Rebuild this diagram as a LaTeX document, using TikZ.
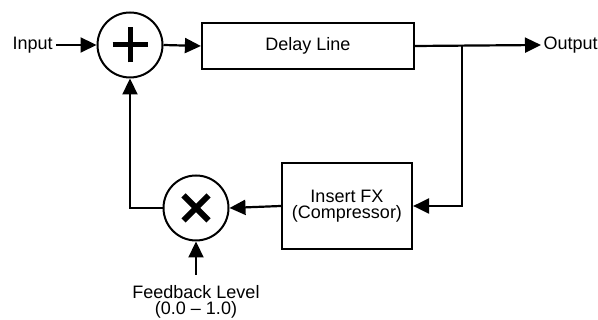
\documentclass[tikz,border=0pt]{standalone}
\usepackage{fontspec}
\setmainfont{Liberation Sans}
\usetikzlibrary{arrows.meta}
\begin{document}
\begin{tikzpicture}[x=1pt,y=1pt,
  wire/.style={line width=2.2pt},
  sig/.style={wire,-{Triangle[length=16pt,width=15pt]}},
  opnode/.style={circle,draw,line width=2pt,minimum size=65pt,inner sep=0pt},
  txt/.style={font=\fontsize{18}{16.5}\selectfont,align=center},
  block/.style={draw,line width=2.2pt,inner sep=0pt,txt}]
\useasboundingbox (0,0) rectangle (598,320);

% processing blocks
\node[block,minimum width=212pt,minimum height=46pt] (delay) at (308,274) {Delay Line};
\node[block,minimum width=130pt,minimum height=86pt] (fx) at (347,114) {Insert FX\\(Compressor)};

% summing and scaling junctions
\node[opnode] (sum) at (130,275) {};
\node[opnode] (mul) at (196,112) {};
\draw[line width=5pt] (sum.center) ++(-17.5,0) -- ++(35,0);
\draw[line width=5pt] (sum.center) ++(0,-17.5) -- ++(0,35);
\draw[line width=6pt] (mul.center) ++(-12.5,-12.5) -- ++(25,25);
\draw[line width=6pt] (mul.center) ++(-12.5,12.5) -- ++(25,-25);

% labels
\node[txt,inner sep=3.5pt,anchor=west] (in) at (9,275) {Input};
\node[txt,inner sep=2.5pt,anchor=west] (out) at (541,275) {Output};
\node[txt,inner sep=0pt,outer ysep=10pt,anchor=north] (fb) at (196,45) {Feedback Level\\(0.0 – 1.0)};

\coordinate (tap) at (462,275);
\coordinate (corner) at (130,112);

% signal flow
\draw[sig] (in.east) -- (sum.west);
\draw[sig] (sum.east) -- (delay.west);
\draw[sig] (delay.east) -- (out.west);
\draw[sig] (tap) |- (fx.east);
\draw[sig] (fx.west) -- (mul.east);
\draw[sig] (mul.west) -- (corner) -- (sum.south);
\draw[sig] (fb.north) -- (mul.south);
\end{tikzpicture}
\end{document}
